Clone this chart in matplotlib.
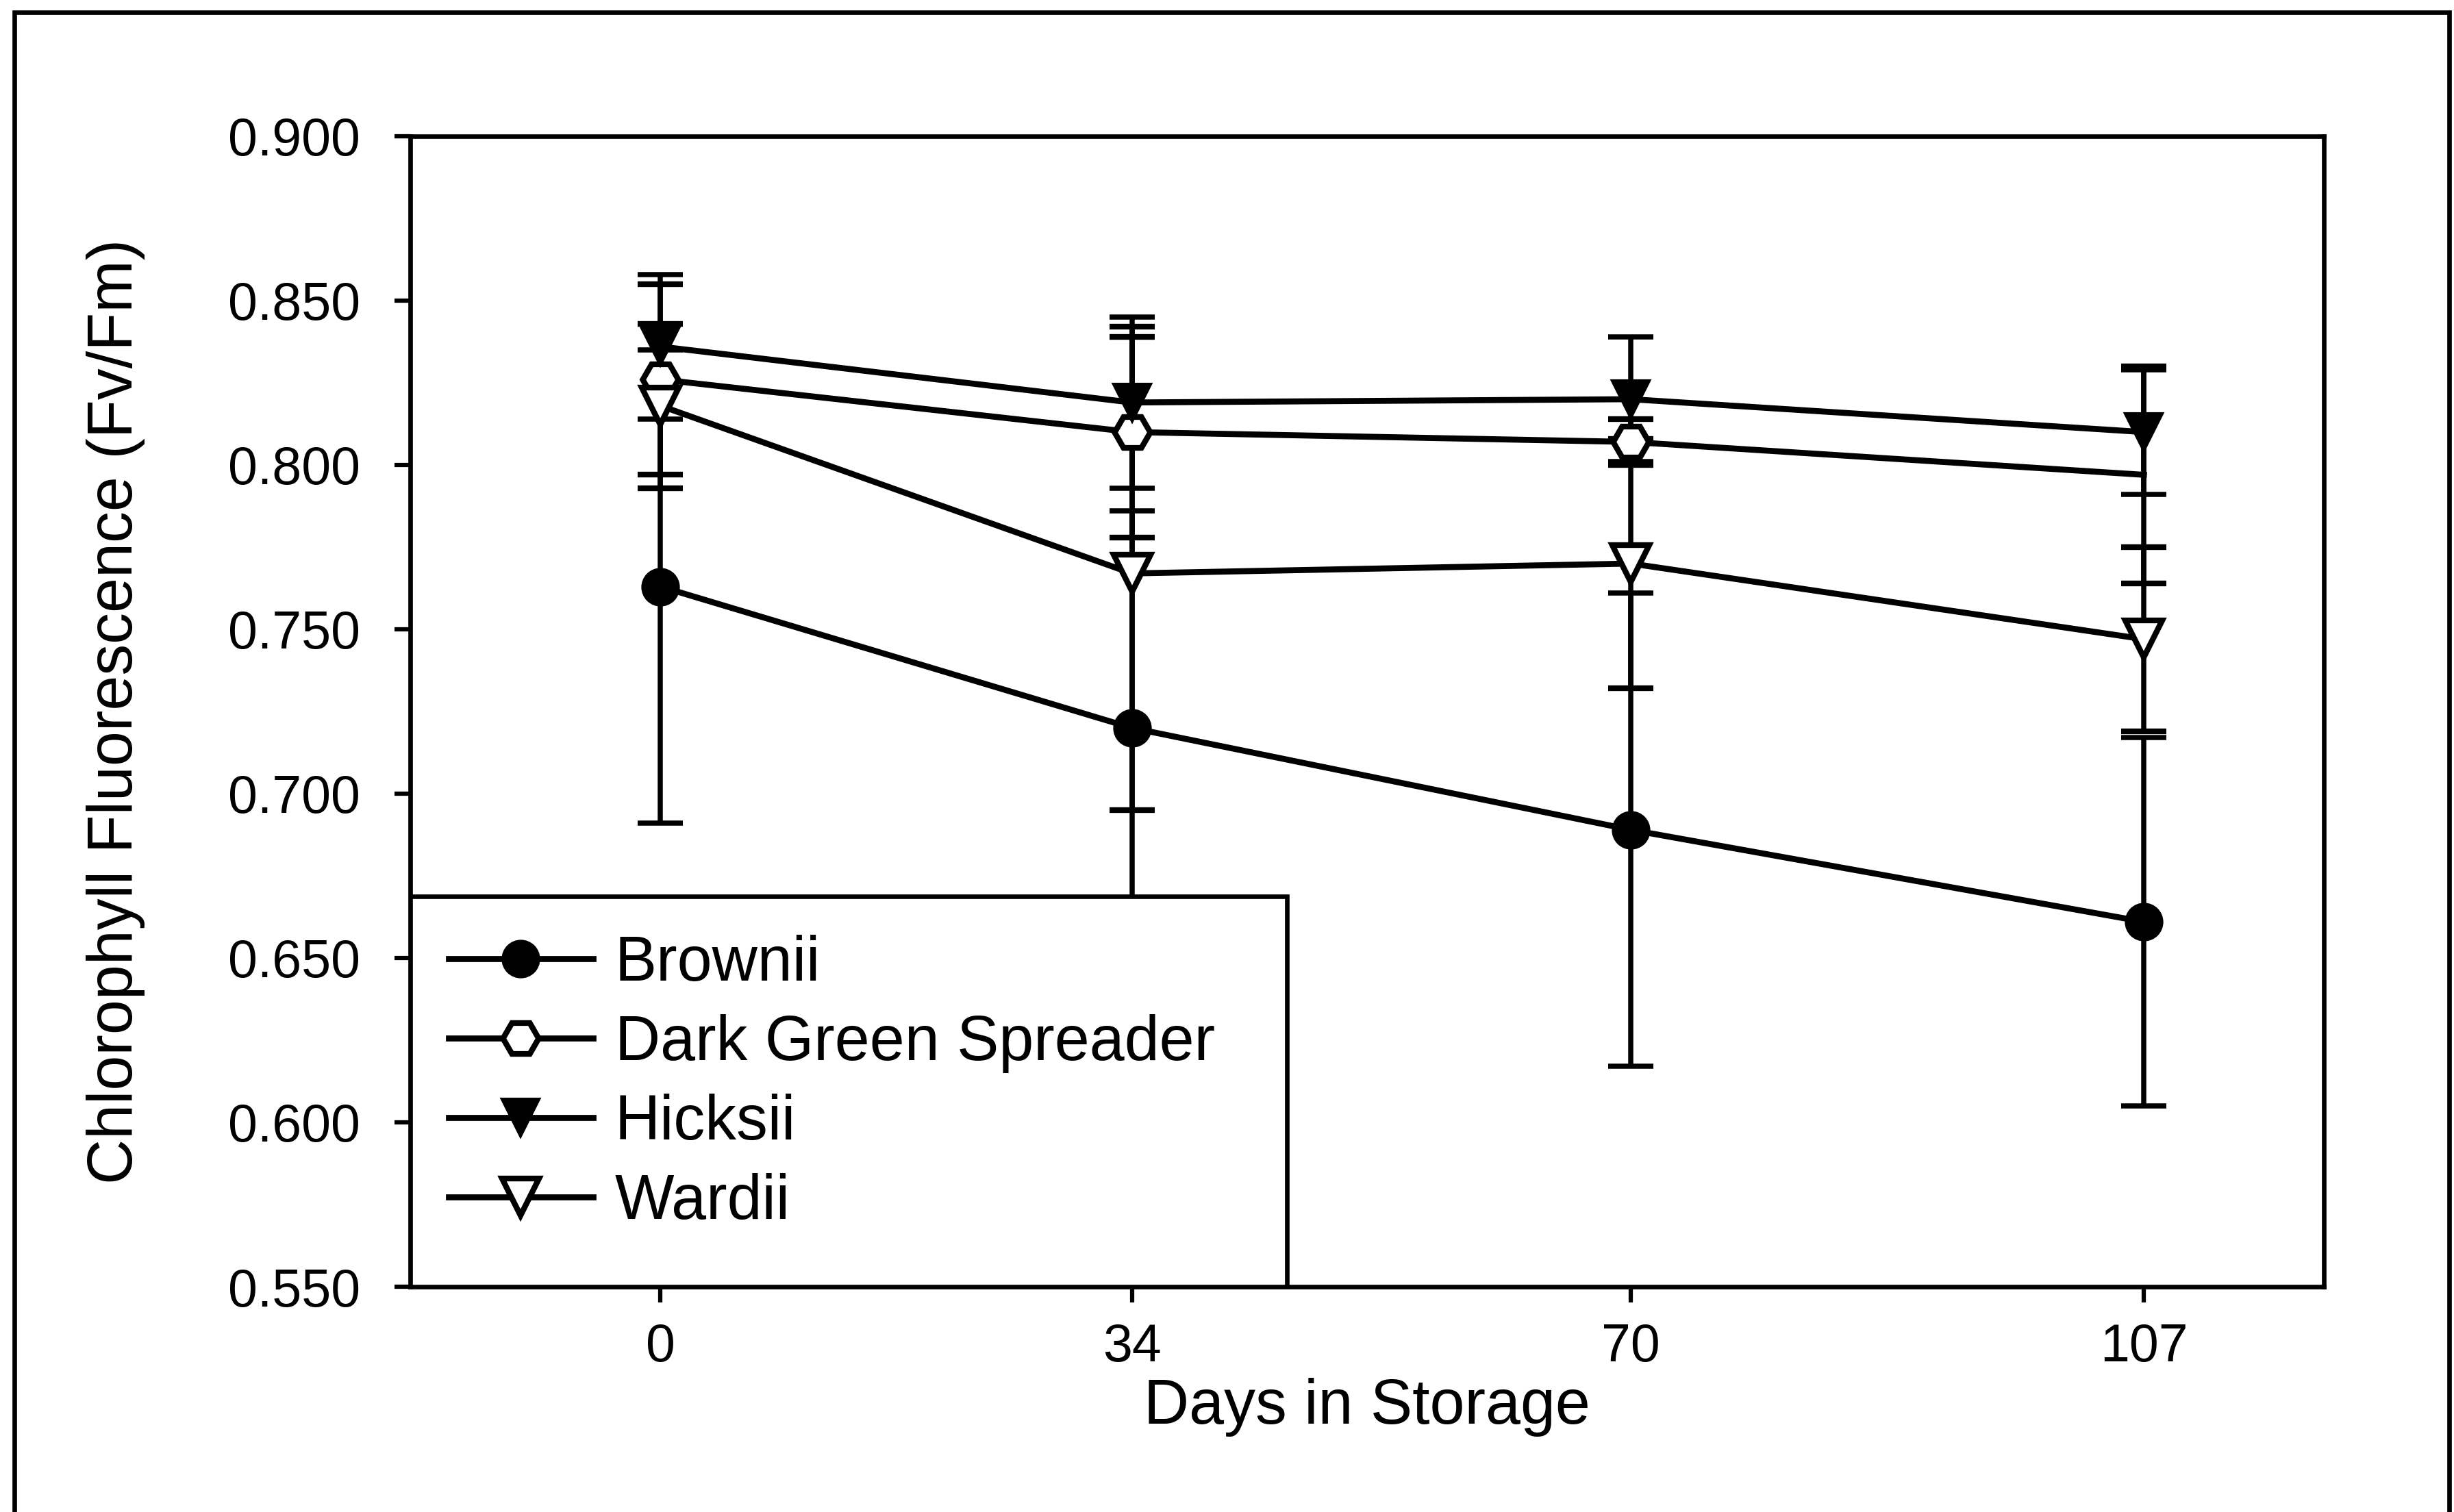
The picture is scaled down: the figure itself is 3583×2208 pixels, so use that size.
import numpy as np
import matplotlib
matplotlib.use("Agg")
import matplotlib.pyplot as plt
from matplotlib.patches import Rectangle

plt.rcParams['font.family'] = ['Liberation Sans', 'DejaVu Sans']

# days in storage
days = [0, 34, 70, 107]

# mean Fv/Fm and error bars
brownii = [0.763, 0.720, 0.689, 0.661]
brownii_err = [0.072, 0.066, 0.072, 0.056]

dgs = [0.826, 0.810, 0.807, 0.797]
dgs_err = [0.029, 0.032, 0.007, 0.033]

hicksii = [0.836, 0.819, 0.820, 0.810]
hicksii_err = [0.022, 0.026, 0.019, 0.019]

wardii = [0.818, 0.767, 0.770, 0.747]
wardii_err = [0.025, 0.072, 0.038, 0.028]

names = ['Brownii', 'Dark Green Spreader', 'Hicksii', 'Wardii']
yticks = [0.550, 0.600, 0.650, 0.700, 0.750, 0.800, 0.850, 0.900]

fig = plt.figure(figsize=(3583/300, 2208/300), dpi=300)
ax = fig.add_axes([0.1671, 0.149, 0.78, 0.7609])

eb = dict(color='black', ecolor='black', elinewidth=1.8, capsize=8, capthick=1.8, lw=2.1)

c1 = ax.errorbar(days, brownii, yerr=brownii_err, marker='o', ms=12.5,
                 mfc='black', mec='black', zorder=3, **eb)
c2 = ax.errorbar(days, dgs, yerr=dgs_err, marker='H', ms=12.5, markevery=[0, 1, 2],
                 mfc='white', mec='black', mew=2, zorder=3, **eb)
c3 = ax.errorbar(days, hicksii, yerr=hicksii_err, marker='v', ms=13,
                 mfc='black', mec='black', zorder=3, **eb)
c4 = ax.errorbar(days, wardii, yerr=wardii_err, marker='v', ms=13,
                 mfc='white', mec='black', mew=2, zorder=3, **eb)

ax.set_xlim(-18.06, 120.0)
ax.set_ylim(0.550, 0.900)
ax.set_xticks(days)
ax.set_yticks(yticks)
ax.set_yticklabels(['%.3f' % v for v in yticks])
ax.tick_params(direction='out', length=5.5, width=1.5, labelsize=18.5)
ax.tick_params(axis='y', pad=12)
ax.tick_params(axis='x', pad=7)
for s in ax.spines.values():
    s.set_linewidth(1.6)

ax.set_xlabel('Days in Storage', fontsize=22, labelpad=2)
ax.set_ylabel('Chlorophyll Fluorescence (Fv/Fm)', fontsize=22, labelpad=29)

# legend box sits in the lower left corner of the axes
box = Rectangle((0, 0), 0.458, 0.339, transform=ax.transAxes, facecolor='white',
                edgecolor='black', lw=1.6, zorder=4.5)
ax.add_patch(box)
handles = [c[0] for c in (c1, c2, c3, c4)]
leg = ax.legend(handles, names, loc='upper left', bbox_to_anchor=(0.007, 0.328),
                frameon=False, fontsize=22, handlelength=2.3, handletextpad=0.35,
                labelspacing=0.33, borderpad=0.4, borderaxespad=0.0)
leg.set_zorder(5)

# outer frame of the scanned figure
fig.patches.append(Rectangle((0.006, -0.01), 0.992, 1.002, transform=fig.transFigure,
                             fill=False, edgecolor='black', lw=1.6))

fig.savefig('out.png', dpi=300)
